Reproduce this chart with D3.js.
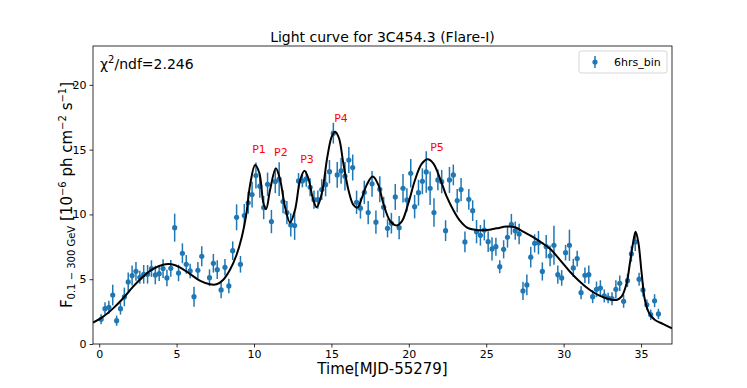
<!DOCTYPE html>
<html>
<head>
<meta charset="utf-8">
<script src="https://cdn.jsdelivr.net/npm/d3@7"></script>
<style>
  body { margin: 0; background: #fff; }
  svg text { font-family: "DejaVu Sans", sans-serif; }
</style>
</head>
<body>
<div id="chart"></div>
<script>
// 6 hour bins, time in MJD-55279
const times = [0.125,0.375,0.625,0.875,1.125,1.375,1.625,1.875,2.125,2.375,2.625,2.875,3.125,3.375,3.625,3.875,
  4.125,4.375,4.625,4.875,5.125,5.375,5.625,5.875,6.125,6.375,6.625,7.125,7.375,7.625,7.875,8.125,8.375,8.625,8.875,
  9.125,9.375,9.625,9.875,10.125,10.375,10.625,10.875,11.125,11.375,11.625,11.875,12.125,12.375,12.625,12.875,13.125,
  13.375,13.625,13.875,14.125,14.375,14.625,14.875,15.125,15.375,15.625,15.875,16.125,16.375,16.625,16.875,17.125,
  17.375,17.625,17.875,18.125,18.375,18.625,18.875,19.125,19.375,19.625,19.875,20.125,20.375,20.625,20.875,21.125,
  21.375,21.625,21.875,22.125,22.375,22.625,22.875,23.125,23.375,23.625,23.875,24.125,24.375,24.625,24.875,25.125,
  25.375,25.625,25.875,26.125,26.375,26.625,26.875,27.125,27.375,27.625,27.875,28.125,28.375,28.625,28.875,29.125,
  29.375,29.625,29.875,30.125,30.375,30.625,30.875,31.125,31.375,31.625,31.875,32.125,32.375,32.625,32.875,33.125,
  33.375,33.625,33.875,34.125,34.375,34.625,34.875,35.125,35.375,35.625,35.875,36.125];
const flux = [1.91,2.73,2.83,3.78,1.8,2.73,3.63,4.79,5.28,5.61,5.15,5.38,5.38,5.82,5.33,5.43,
  5.82,5.1,5.84,8.98,5.48,7.0,6.15,5.64,3.65,5.69,6.77,5.12,6.23,5.74,4.17,5.92,4.48,7.2,9.78,
  6.15,9.91,10.9,11.53,13.0,12.18,10.53,12.33,9.45,12.54,12.72,10.99,10.14,9.19,9.14,12.59,12.59,
  12.74,12.1,11.14,11.14,11.92,12.3,13.3,16.27,13.05,13.36,12.95,14.2,13.62,10.94,10.48,11.71,
  10.14,12.36,9.4,11.94,10.56,8.93,9.32,11.35,8.98,12.02,11.12,13.18,10.6,11.68,12.56,13.28,
  12.02,10.14,12.66,12.53,8.75,12.66,13.05,11.07,11.92,7.88,11.17,10.29,8.67,8.39,8.8,7.9,
  7.34,7.51,5.97,7.31,8.24,9.24,8.75,8.49,4.1,4.56,6.7,7.77,7.82,5.6,7.51,6.8,
  7.62,5.35,5.1,7.05,7.62,5.87,6.59,3.96,5.3,5.35,3.65,4.22,4.32,3.71,3.55,3.5,
  4.22,4.69,3.3,4.89,6.95,7.88,5.0,4.17,3.03,2.26,3.34,2.32];
const fluxErr = [0.39,0.5,0.5,0.8,0.39,0.46,0.72,0.72,0.77,0.72,0.5,0.72,0.72,0.64,0.72,0.56,
  0.72,0.64,0.64,1.08,0.64,0.77,0.72,0.56,0.77,0.64,0.77,0.64,0.72,0.72,0.64,0.64,0.56,0.72,1.0,
  0.64,0.9,0.85,1.0,1.0,0.9,0.9,0.9,0.9,0.9,1.3,0.9,0.9,0.9,1.1,0.6,0.5,
  0.6,0.7,0.7,0.7,0.8,0.9,0.9,0.8,1.0,1.0,1.1,1.0,1.0,0.9,0.8,0.9,
  0.9,1.0,0.9,1.0,0.8,0.7,0.8,1.0,0.9,1.1,0.9,1.1,0.9,1.0,1.0,1.6,
  1.3,1.1,0.8,0.9,0.8,1.0,0.8,0.9,0.9,0.8,0.8,0.8,0.9,0.8,0.8,0.8,
  0.9,0.7,0.5,0.7,0.8,0.8,0.7,0.8,0.7,0.8,0.8,0.7,0.9,0.7,0.9,0.8,
  1.5,0.7,0.6,0.6,1.2,0.7,0.6,0.5,0.6,0.7,0.5,0.6,0.6,0.5,0.4,0.5,
  0.7,0.6,0.5,0.5,0.6,0.7,0.5,0.5,0.4,0.4,0.5,0.4];

// fitted curve, sampled off the plot
const fitT = [-0.4,0.26,0.9,1.55,2.19,2.84,3.49,4.13,4.67,5.21,5.86,6.5,7.15,7.58,8.0,8.44,8.87,9.2,9.5,9.75,
  10.07,10.35,10.61,10.78,11.04,11.41,11.69,12.0,12.33,12.65,12.98,13.26,13.51,13.8,14.05,14.38,14.74,15.02,15.24,
  15.49,15.77,16.1,16.42,16.68,16.96,17.28,17.67,18.03,18.35,18.79,19.2,19.54,19.97,20.4,20.83,21.22,21.58,22.01,
  22.45,22.87,23.3,23.74,24.38,25.03,25.67,26.32,26.86,27.39,27.95,28.6,29.12,29.76,30.41,31.05,31.7,32.35,32.99,
  33.42,33.74,34.07,34.28,34.5,34.65,34.82,35.04,35.25,35.53,35.9,36.44,37.0];
const fitF = [1.65,2.11,2.75,3.53,4.43,5.2,5.79,6.12,6.15,5.92,5.41,4.89,4.61,4.61,4.94,5.71,6.87,8.2,10.0,12.3,
  13.82,13.18,10.86,10.4,11.9,13.57,12.66,10.6,9.37,10.35,12.66,13.38,12.79,11.25,10.55,11.63,14.46,16.0,16.39,
  15.88,13.95,11.89,10.73,10.53,11.25,12.28,12.92,12.28,10.86,9.5,9.15,9.44,10.86,12.66,13.9,14.26,13.95,12.79,
  11.37,10.35,9.52,9.01,8.8,8.8,8.93,9.06,9.01,8.67,8.3,7.8,7.35,6.49,5.58,4.81,4.17,3.71,3.45,
  3.4,3.65,4.69,6.23,7.9,8.67,7.9,5.46,3.4,2.37,1.85,1.54,1.21];

const peakNames = ["P1", "P2", "P3", "P4", "P5"];
const peakT = [10.32, 11.74, 13.42, 15.62, 21.82];
const peakF = [14.75, 14.5, 14.0, 17.1, 14.9];

const xTicks = [0, 5, 10, 15, 20, 25, 30, 35];
const yTicks = [0, 5, 10, 15, 20];

const width = 747, height = 388;
const margin = { top: 46, right: 75, bottom: 44, left: 93 };
const blue = "#1f77b4";

const svg = d3.select("#chart").append("svg")
    .attr("width", width)
    .attr("height", height);

const x = d3.scaleLinear().domain([-0.4, 37]).range([margin.left, width - margin.right]);
const y = d3.scaleLinear().domain([0, 23]).range([height - margin.bottom, margin.top]);

svg.append("clipPath").attr("id", "clip")
  .append("rect")
    .attr("x", margin.left).attr("y", margin.top)
    .attr("width", width - margin.left - margin.right)
    .attr("height", height - margin.top - margin.bottom);

const points = times.map((t, i) => ({ t, f: flux[i], e: fluxErr[i] }));

const plot = svg.append("g").attr("clip-path", "url(#clip)");

// error bars
plot.append("g")
    .attr("stroke", blue)
    .attr("stroke-width", 1.5)
  .selectAll("line")
  .data(points)
  .join("line")
    .attr("x1", d => x(d.t)).attr("x2", d => x(d.t))
    .attr("y1", d => y(d.f - d.e)).attr("y2", d => y(d.f + d.e));

plot.append("g")
    .attr("fill", blue)
  .selectAll("circle")
  .data(points)
  .join("circle")
    .attr("cx", d => x(d.t))
    .attr("cy", d => y(d.f))
    .attr("r", 2.6);

// fit line
const fit = fitT.map((t, i) => [t, fitF[i]]);
plot.append("path")
    .datum(fit)
    .attr("fill", "none")
    .attr("stroke", "#000")
    .attr("stroke-width", 2)
    .attr("d", d3.line().x(d => x(d[0])).y(d => y(d[1])).curve(d3.curveCatmullRom.alpha(0.5)));

// peak labels
svg.append("g")
  .selectAll("text")
  .data(peakNames)
  .join("text")
    .attr("x", (d, i) => x(peakT[i]))
    .attr("y", (d, i) => y(peakF[i]))
    .attr("text-anchor", "middle")
    .attr("fill", "red")
    .attr("font-size", 11)
    .text(d => d);

// axes
const xAxis = svg.append("g")
    .attr("transform", `translate(0,${height - margin.bottom})`)
    .call(d3.axisBottom(x).tickValues(xTicks).tickSize(3.5).tickPadding(3));
const yAxis = svg.append("g")
    .attr("transform", `translate(${margin.left},0)`)
    .call(d3.axisLeft(y).tickValues(yTicks).tickSize(3.5).tickPadding(3));
[xAxis, yAxis].forEach(a => {
  a.select(".domain").remove();
  a.selectAll("text").attr("font-size", 11).attr("font-family", "DejaVu Sans").attr("fill", "#000");
  a.selectAll("line").attr("stroke", "#000").attr("stroke-width", 0.8);
});

svg.append("rect")
    .attr("x", margin.left).attr("y", margin.top)
    .attr("width", width - margin.left - margin.right)
    .attr("height", height - margin.top - margin.bottom)
    .attr("fill", "none")
    .attr("stroke", "#000")
    .attr("stroke-width", 0.8);

// title
svg.append("text")
    .attr("x", (margin.left + width - margin.right) / 2)
    .attr("y", 42)
    .attr("text-anchor", "middle")
    .attr("font-size", 14)
    .text("Light curve for 3C454.3 (Flare-I)");

// chi2
const chi = svg.append("text")
    .attr("x", 100)
    .attr("y", 69)
    .attr("font-size", 14);
chi.append("tspan").text("χ");
chi.append("tspan").attr("font-size", 10).attr("dy", -6).text("2");
chi.append("tspan").attr("dy", 6).text("/ndf=2.246");

// x label
svg.append("text")
    .attr("x", (margin.left + width - margin.right) / 2)
    .attr("y", 374)
    .attr("text-anchor", "middle")
    .attr("font-size", 15)
    .text("Time[MJD-55279]");

// y label
const yl = svg.append("text")
    .attr("transform", `translate(72,${(margin.top + height - margin.bottom) / 2}) rotate(-90)`)
    .attr("text-anchor", "middle")
    .attr("font-size", 15);
yl.append("tspan").text("F");
yl.append("tspan").attr("font-size", 10).attr("dy", 3).text("0.1 − 300 GeV");
yl.append("tspan").attr("dy", -3).text(" [10");
yl.append("tspan").attr("font-size", 10).attr("dy", -6).text("−6");
yl.append("tspan").attr("dy", 6).text(" ph cm");
yl.append("tspan").attr("font-size", 10).attr("dy", -6).text("−2");
yl.append("tspan").attr("dy", 6).text(" s");
yl.append("tspan").attr("font-size", 10).attr("dy", -6).text("−1");
yl.append("tspan").attr("dy", 6).text("]");

// legend
const lg = svg.append("g");
lg.append("rect")
    .attr("x", 579).attr("y", 51)
    .attr("width", 88).attr("height", 22)
    .attr("rx", 2)
    .attr("fill", "#fff")
    .attr("stroke", "#ccc")
    .attr("stroke-width", 0.8);
lg.append("line")
    .attr("x1", 595).attr("x2", 595)
    .attr("y1", 56).attr("y2", 68)
    .attr("stroke", blue).attr("stroke-width", 1.5);
lg.append("circle")
    .attr("cx", 595).attr("cy", 62).attr("r", 2.6).attr("fill", blue);
lg.append("text")
    .attr("x", 614).attr("y", 66)
    .attr("font-size", 11)
    .text("6hrs_bin");
</script>
</body>
</html>
